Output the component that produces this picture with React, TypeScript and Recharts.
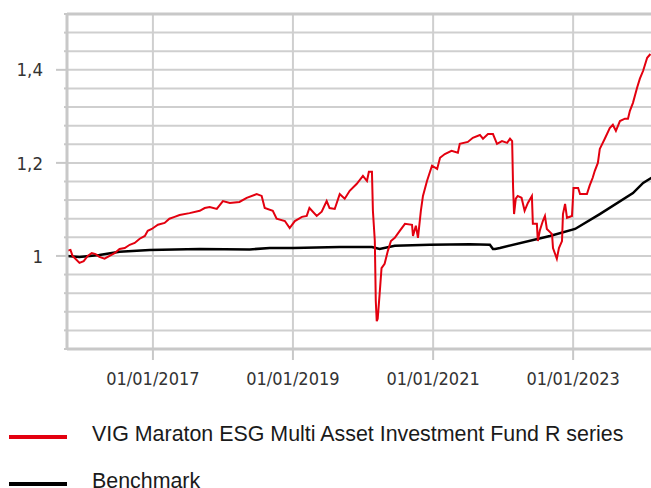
import React from "react";
import { LineChart, Line, XAxis, YAxis, CartesianGrid, ReferenceLine } from "recharts";

// fund NAV (rebased to 1)
const fundDates = [
  "2015-10-08", "2015-10-29", "2015-11-09", "2015-11-24", "2015-12-15", "2016-01-06",
  "2016-01-27", "2016-02-17", "2016-03-08", "2016-03-28", "2016-04-24", "2016-05-20",
  "2016-06-15", "2016-07-11", "2016-08-07", "2016-09-02", "2016-09-28", "2016-10-24",
  "2016-11-20", "2016-12-05", "2016-12-26", "2017-01-27", "2017-03-03", "2017-03-28",
  "2017-04-24", "2017-05-20", "2017-07-11", "2017-09-02", "2017-09-28", "2017-10-24",
  "2017-11-30", "2018-01-01", "2018-02-06", "2018-03-28", "2018-05-05", "2018-06-26",
  "2018-07-22", "2018-08-07", "2018-09-18", "2018-10-08", "2018-11-20", "2018-12-15",
  "2019-01-11", "2019-02-17", "2019-03-14", "2019-03-28", "2019-05-05", "2019-05-31",
  "2019-06-26", "2019-07-11", "2019-08-07", "2019-09-02", "2019-09-28", "2019-10-24",
  "2019-11-30", "2020-01-01", "2020-01-22", "2020-02-01", "2020-02-17", "2020-02-22",
  "2020-03-03", "2020-03-08", "2020-03-13", "2020-03-18", "2020-03-28", "2020-04-07",
  "2020-04-23", "2020-05-10", "2020-05-26", "2020-06-15", "2020-07-11", "2020-08-07",
  "2020-09-13", "2020-09-18", "2020-10-03", "2020-10-14", "2020-10-29", "2020-11-09",
  "2020-11-30", "2020-12-26", "2021-01-22", "2021-02-06", "2021-03-03", "2021-04-07",
  "2021-05-10", "2021-05-20", "2021-07-01", "2021-07-27", "2021-09-02", "2021-09-18",
  "2021-10-14", "2021-11-09", "2021-11-30", "2021-12-26", "2022-01-22", "2022-02-06",
  "2022-02-17", "2022-02-22", "2022-02-27", "2022-03-08", "2022-03-18", "2022-04-07",
  "2022-04-23", "2022-05-10", "2022-05-31", "2022-06-05", "2022-06-26", "2022-07-01",
  "2022-07-11", "2022-07-27", "2022-08-07", "2022-08-17", "2022-09-13", "2022-09-18",
  "2022-10-08", "2022-10-19", "2022-11-04", "2022-11-09", "2022-11-20", "2022-11-30",
  "2022-12-26", "2023-01-03", "2023-01-27", "2023-02-06", "2023-03-14", "2023-03-28",
  "2023-04-13", "2023-04-24", "2023-05-10", "2023-05-20", "2023-06-15", "2023-07-11",
  "2023-07-27", "2023-08-12", "2023-09-02", "2023-09-28", "2023-10-14", "2023-10-24",
  "2023-11-09", "2023-11-30", "2023-12-15", "2024-01-01", "2024-01-22", "2024-02-08",
];
const fundValues = [
  1.011, 1.013, 1.0, 0.994, 0.985, 0.989,
  1.0, 1.006, 1.004, 0.998, 0.994, 1.0,
  1.006, 1.015, 1.017, 1.024, 1.028, 1.037,
  1.043, 1.054, 1.058, 1.067, 1.071, 1.08,
  1.084, 1.088, 1.092, 1.097, 1.103, 1.105,
  1.101, 1.118, 1.114, 1.116, 1.125, 1.133,
  1.129, 1.103, 1.097, 1.08, 1.075, 1.06,
  1.075, 1.084, 1.086, 1.103, 1.086, 1.095,
  1.118, 1.103, 1.101, 1.133, 1.123, 1.14,
  1.155, 1.172, 1.161, 1.181, 1.181, 1.097,
  1.032, 0.903, 0.86, 0.865, 0.918, 0.974,
  0.983, 1.011, 1.032, 1.039, 1.054, 1.069,
  1.067, 1.043, 1.065, 1.039, 1.097, 1.129,
  1.161, 1.194, 1.187, 1.211, 1.219, 1.226,
  1.222, 1.241, 1.245, 1.254, 1.26, 1.252,
  1.262, 1.262, 1.241, 1.247, 1.243, 1.252,
  1.247, 1.146, 1.09, 1.123, 1.129, 1.125,
  1.097, 1.114, 1.129, 1.069, 1.069, 1.032,
  1.054, 1.075, 1.086, 1.058, 1.047, 1.017,
  0.994, 1.017, 1.032, 1.09, 1.112, 1.082,
  1.086, 1.146, 1.146, 1.133, 1.133, 1.151,
  1.168, 1.183, 1.2, 1.23, 1.252, 1.275,
  1.282, 1.269, 1.29, 1.295, 1.295, 1.312,
  1.329, 1.361, 1.381, 1.398, 1.426, 1.434,
];

const benchDates = [
  "2015-10-08", "2015-12-15", "2016-03-28", "2016-07-11", "2016-12-15", "2017-09-02",
  "2018-05-20", "2018-09-02", "2019-01-01", "2019-09-02", "2020-02-17", "2020-03-28",
  "2020-06-15", "2020-12-15", "2021-07-11", "2021-10-24", "2021-11-09", "2021-11-20",
  "2021-12-15", "2022-09-02", "2023-01-11", "2023-05-20", "2023-11-09", "2024-01-01",
  "2024-02-14",
];
const benchValues = [
  1.0, 0.998, 1.002, 1.009, 1.013, 1.015,
  1.014, 1.017, 1.017, 1.019, 1.019, 1.015,
  1.022, 1.024, 1.025, 1.024, 1.015, 1.015,
  1.017, 1.043, 1.058, 1.09, 1.135, 1.157,
  1.168,
];

const xTickDates = ["2017-01-01", "2019-01-01", "2021-01-01", "2023-01-01"];
const xDomainDates = ["2015-10-11", "2024-02-11"];
const yTicks = [
  0.8, 0.84, 0.88, 0.92, 0.96, 1, 1.04, 1.08, 1.12, 1.16,
  1.2, 1.24, 1.28, 1.32, 1.36, 1.4, 1.44, 1.48, 1.52,
];
const yLabelled = [1, 1.2, 1.4];

const fundName = "VIG Maraton ESG Multi Asset Investment Fund R series";
const benchName = "Benchmark";

const ts = (d: string) => Date.parse(d + "T00:00:00Z");

type Row = { t: number; fund?: number; bench?: number };
const rowMap = new Map<number, Row>();
fundDates.forEach((d, i) => {
  const t = ts(d);
  rowMap.set(t, { ...(rowMap.get(t) || { t }), fund: fundValues[i] });
});
benchDates.forEach((d, i) => {
  const t = ts(d);
  rowMap.set(t, { ...(rowMap.get(t) || { t }), bench: benchValues[i] });
});
const data = Array.from(rowMap.values()).sort((a, b) => a.t - b.t);

const GRID = "#cfcfcf";
const AXIS = "#c8c8c8";
const AXIS_FONT = "'DejaVu Sans Condensed', 'DejaVu Sans', Verdana, sans-serif";
const LEGEND_FONT = "'Liberation Sans', Arial, sans-serif";

const fmtDate = (t: number) => {
  const d = new Date(t);
  const dd = String(d.getUTCDate()).padStart(2, "0");
  const mm = String(d.getUTCMonth() + 1).padStart(2, "0");
  return `${dd}/${mm}/${d.getUTCFullYear()}`;
};

function YTick(props: any) {
  const { x, y, payload } = props;
  const v = Math.round(payload.value * 100) / 100;
  const big = yLabelled.some((l) => Math.abs(l - v) < 1e-6);
  return (
    <g>
      <line x1={big ? x - 11 : x - 3} x2={x} y1={y} y2={y} stroke={AXIS} strokeWidth={2} />
      {big && (
        <text
          x={x - 24}
          y={y}
          dy="0.36em"
          textAnchor="end"
          fill="#333"
          fontSize={18.5}
          fontFamily={AXIS_FONT}
        >
          {String(v).replace(".", ",")}
        </text>
      )}
    </g>
  );
}

export default function App() {
  return (
    <div
      style={{
        position: "absolute",
        left: 0,
        top: 0,
        width: 651,
        height: 488,
        overflow: "hidden",
        background: "#fff",
      }}
    >
      <LineChart
        width={651}
        height={400}
        data={data}
        margin={{ top: 14, right: 0, bottom: 0, left: 0 }}
      >
        <CartesianGrid
          stroke={GRID}
          strokeWidth={2}
          horizontalValues={yTicks}
          verticalValues={xTickDates.map(ts)}
        />
        <XAxis
          dataKey="t"
          type="number"
          scale="time"
          domain={xDomainDates.map(ts)}
          ticks={xTickDates.map(ts)}
          tickFormatter={fmtDate}
          allowDataOverflow
          height={51}
          axisLine={{ stroke: AXIS, strokeWidth: 3 }}
          tickLine={{ stroke: AXIS, strokeWidth: 2 }}
          tickSize={11}
          tickMargin={12}
          tick={{ fill: "#333", fontSize: 18, fontFamily: AXIS_FONT }}
          interval={0}
        />
        <YAxis
          type="number"
          domain={[0.8, 1.52]}
          ticks={yTicks}
          width={67}
          interval={0}
          allowDataOverflow
          axisLine={{ stroke: AXIS, strokeWidth: 3 }}
          tickLine={false}
          tickSize={0}
          tickMargin={0}
          tick={<YTick />}
        />
        <ReferenceLine y={1.52} stroke={AXIS} strokeWidth={3} />
        <Line
          dataKey="bench"
          name={benchName}
          type="linear"
          stroke="#000"
          strokeWidth={2.5}
          dot={false}
          connectNulls
          isAnimationActive={false}
        />
        <Line
          dataKey="fund"
          name={fundName}
          type="linear"
          stroke="#e3000f"
          strokeWidth={2}
          dot={false}
          connectNulls
          isAnimationActive={false}
        />
      </LineChart>
      {[
        { name: fundName, color: "#e3000f", y: 435 },
        { name: benchName, color: "#000", y: 482 },
      ].map((item) => (
        <div key={item.name}>
          <div
            style={{
              position: "absolute",
              left: 9,
              top: item.y,
              width: 58,
              height: 4,
              background: item.color,
            }}
          />
          <div
            style={{
              position: "absolute",
              left: 92,
              top: item.y - 11,
              fontFamily: LEGEND_FONT,
              fontSize: 21.4,
              lineHeight: "21px",
              color: "#1a1a1a",
              whiteSpace: "nowrap",
            }}
          >
            {item.name}
          </div>
        </div>
      ))}
    </div>
  );
}
